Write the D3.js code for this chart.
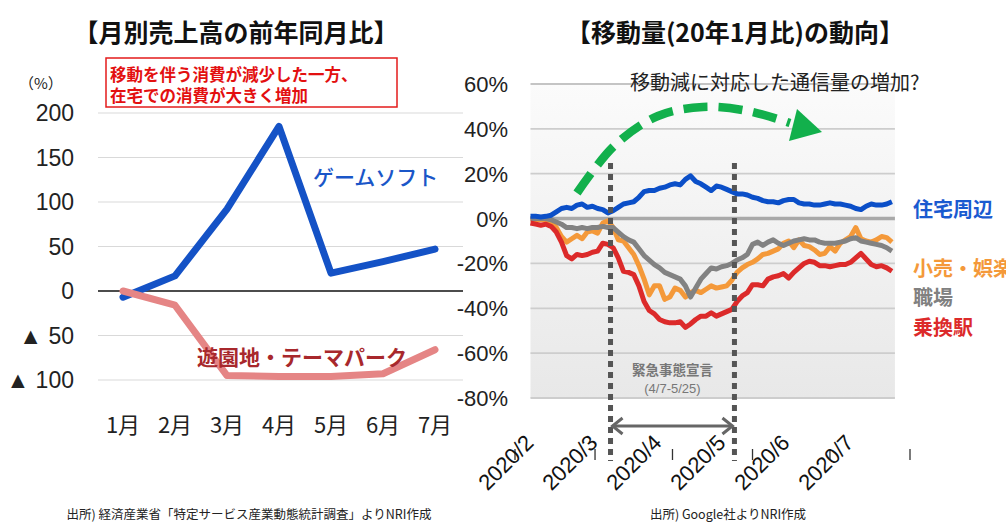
<!DOCTYPE html>
<html><head><meta charset="utf-8">
<script src="https://cdn.jsdelivr.net/npm/d3@7"></script>
<style>
body{margin:0;background:#fff}
svg{display:block}
text{font-family:"Noto Sans CJK JP","Noto Sans",sans-serif}
.num{font-family:"Liberation Sans",Arial,sans-serif}
</style>
</head><body><svg id="c" width="1006" height="522"></svg>
<script>
// ---------- left chart data ----------
const months = ["1月","2月","3月","4月","5月","6月","7月"];
const gameSoft = [-7, 17, 92, 185, 20, 33, 47];
const themePark = [0, -16, -95, -96, -96, -93, -66];
const leftTicks = [-100, -50, 0, 50, 100, 150, 200];
const leftTickLabels = ["▲ 100", "▲ 50", "0", "50", "100", "150", "200"];

// ---------- right chart data (every 2 days from 2020-03-07) ----------
const mobilityStart = "2020-03-07";
const residential = [1,1,0.7,1,1.5,3,4.5,5,4.5,6,6.5,5,5.5,4.5,4,2.5,3.5,5,
  6.5,7,7.5,9.5,12,12.5,12.5,13.5,14,15,15.5,15,17.5,19,16.5,15.5,14,12.5,14.5,14,13,12,11,11,10.5,9.5,9,8,7.5,7.5,7,8,8.5,8.5,7,
  6.5,6.5,6,6,6.5,7,6.5,6.5,6,5.5,4.5,4,5.5,6.5,6,6,6.5,7.5];
const retail = [-0.5,-0.5,-0.5,-0.5,-1.5,-4,-8,-10.5,-9,-7.5,-9,-6,-5.5,-6.5,-2,-1,-4,-9.5,
  -10,-13,-16,-21,-27,-34,-30,-30,-36,-35,-31,-32,-35,-33,-32,-33,-31.5,-30,-31,-30.5,-30,-27.5,-24,-22,-20.5,-19.5,-18,-16,-15.5,-14.5,-13.5,-11,-10,-13,-9.5,
  -12,-12.5,-14,-16,-15.5,-12.5,-14.5,-11,-9.5,-8,-4,-9,-10,-10.5,-9.5,-8,-8.5,-10.5];
const workplaces = [0,0,0,0,-0.5,-1.5,-2.5,-4,-4,-4.5,-4,-4.5,-4,-4,-3.5,-4,-4,-6,
  -8,-9.5,-10.5,-13.5,-16.5,-18.5,-20.5,-22,-24,-25,-26,-27,-30,-35,-31,-27,-24.5,-22,-22.5,-21.5,-21,-20,-18.5,-17.5,-16,-11.5,-10.5,-12,-10.5,-9.5,-11,-12,-11,-10,-9.5,
  -9,-9.5,-9.5,-10.5,-11,-11,-11,-10.5,-10,-9,-8.5,-10,-10.5,-11,-11.5,-12,-13,-14.5];
const transit = [-2,-2.5,-3,-2.5,-3.5,-6,-10.5,-16.5,-18,-16,-16.5,-16,-15,-14.5,-11,-11.5,-13,-17.5,
  -23.5,-24,-25,-30,-37,-41,-42.5,-45,-46,-46.5,-46.5,-46,-48.5,-47,-45,-43.5,-43.5,-42,-43.5,-42.5,-41.5,-40.5,-37,-34.5,-33,-29.5,-29.5,-30,-27,-26,-25.5,-24.5,-26.5,-24,-22,
  -20,-19,-19.5,-21,-21,-21.5,-21,-20.5,-20.5,-19.5,-17.5,-15.5,-18,-20.5,-21.5,-21,-22,-23.5];
const rightTicks = [-80, -60, -40, -20, 0, 20, 40, 60];
const dateLabels = ["2020/2","2020/3","2020/4","2020/5","2020/6","2020/7"];
const monthTicks = ["2020-03-01","2020-04-01","2020-05-01","2020-06-01","2020-07-01","2020-08-01"];
const emergency = ["2020-04-07","2020-05-25"];
const seriesNames = ["住宅周辺","小売・娯楽","職場","乗換駅"];

const parse = d3.timeParse("%Y-%m-%d");
const svg = d3.select("#c");

// ================= LEFT =================
const xL = d3.scalePoint().domain(months).range([123, 435]);
const yL = d3.scaleLinear().domain([-100, 200]).range([380, 113]);

svg.append("text").attr("x", 236).attr("y", 42).attr("text-anchor","middle")
  .attr("font-size", 25).attr("font-weight", 700).attr("fill","#111").text("【月別売上高の前年同月比】");

const gL = svg.append("g");
gL.selectAll(".gl").data(leftTicks.filter(d => d !== 0)).join("line")
  .attr("x1", 98).attr("x2", 463).attr("y1", d => yL(d)).attr("y2", d => yL(d))
  .attr("stroke", "#d9d9d9").attr("stroke-width", 1.2);
gL.append("line").attr("x1", 98).attr("x2", 463).attr("y1", yL(0)).attr("y2", yL(0))
  .attr("stroke", "#111").attr("stroke-width", 1.5);

gL.selectAll(".yl").data(leftTicks).join("text").attr("class","num")
  .attr("x", 74).attr("y", d => yL(d) + 8).attr("text-anchor","end")
  .attr("font-size", 23).attr("fill","#222")
  .text((d,i) => leftTickLabels[i]);
svg.append("text").attr("x", 19).attr("y", 89).attr("font-size", 15).attr("fill","#222").text("（%）");

gL.selectAll(".xl").data(months).join("text")
  .attr("x", d => xL(d)).attr("y", 433).attr("text-anchor","middle")
  .attr("font-size", 22).attr("fill","#222").text(d => d);

const lineL = d3.line().x((d,i) => xL(months[i])).y(d => yL(d));
gL.append("path").datum(gameSoft).attr("d", lineL).attr("fill","none")
  .attr("stroke","#1452c6").attr("stroke-width", 7).attr("stroke-linejoin","round").attr("stroke-linecap","round");
gL.append("path").datum(themePark).attr("d", lineL).attr("fill","none")
  .attr("stroke","#e58585").attr("stroke-width", 7).attr("stroke-linejoin","round").attr("stroke-linecap","round");

svg.append("text").attr("x", 313).attr("y", 185).attr("font-size", 21).attr("font-weight", 500)
  .attr("fill","#1a56c8").text("ゲームソフト");
svg.append("text").attr("x", 197).attr("y", 365).attr("font-size", 21).attr("font-weight", 700)
  .attr("fill","#a8282c").text("遊園地・テーマパーク");

// annotation box
svg.append("rect").attr("x", 106).attr("y", 58).attr("width", 291).attr("height", 49)
  .attr("fill","#fff").attr("stroke","#e31b1b").attr("stroke-width", 1.5);
const ann = svg.append("text").attr("font-size", 16.5).attr("font-weight", 700).attr("fill","#e31010");
ann.append("tspan").attr("x", 110).attr("y", 81).text("移動を伴う消費が減少した一方、");
ann.append("tspan").attr("x", 110).attr("y", 102).text("在宅での消費が大きく増加");

svg.append("text").attr("x", 249).attr("y", 519).attr("text-anchor","middle").attr("font-size", 12.5)
  .attr("fill","#222").text("出所) 経済産業省「特定サービス産業動態統計調査」よりNRI作成");

// ================= RIGHT =================
const start = parse(mobilityStart);
const dates = residential.map((d,i) => d3.timeDay.offset(start, 2*i));
const xR = d3.scaleTime().domain([parse("2020-03-01"), parse("2020-08-01")]).range([515, 910]);
const yR = d3.scaleLinear().domain([-80, 60]).range([398, 84]);
const px0 = xR(dates[0]), px1 = xR(dates[dates.length-1]) + 3;

svg.append("text").attr("x", 735).attr("y", 42).attr("text-anchor","middle")
  .attr("font-size", 25).attr("font-weight", 700).attr("fill","#111").text("【移動量(20年1月比)の動向】");

const defs = svg.append("defs");
const grad = defs.append("linearGradient").attr("id","bg").attr("x1",0).attr("x2",0).attr("y1",0).attr("y2",1);
grad.append("stop").attr("offset","0%").attr("stop-color","#fbfbfb");
grad.append("stop").attr("offset","100%").attr("stop-color","#e8e8e8");
svg.append("rect").attr("x", px0).attr("y", yR(60)).attr("width", px1 - px0).attr("height", yR(-80) - yR(60))
  .attr("fill","url(#bg)");

const gR = svg.append("g");
gR.selectAll(".gr").data(rightTicks.filter(d => d !== 0)).join("line")
  .attr("x1", px0).attr("x2", px1).attr("y1", d => yR(d)).attr("y2", d => yR(d))
  .attr("stroke", d => d === 60 ? "#c4c4c4" : "#cdcdcd").attr("stroke-width", 1.8);
gR.append("line").attr("x1", px0).attr("x2", px1).attr("y1", yR(0)).attr("y2", yR(0))
  .attr("stroke","#a9a9a9").attr("stroke-width", 3.5);

gR.selectAll(".yr").data(rightTicks).join("text").attr("class","num")
  .attr("x", 508).attr("y", d => yR(d) + 8).attr("text-anchor","end")
  .attr("font-size", 22).attr("fill","#222").text(d => d + "%");

// month tick marks
gR.selectAll(".mt").data(monthTicks).join("line")
  .attr("x1", d => xR(parse(d))).attr("x2", d => xR(parse(d)))
  .attr("y1", 449).attr("y2", 460).attr("stroke","#333").attr("stroke-width", 1.3);

// date labels
const xLab = d3.scalePoint().domain(dateLabels).range([535, 855]);
gR.selectAll(".xd").data(dateLabels).join("text").attr("class","num")
  .attr("transform", d => `translate(${xLab(d)},444) rotate(-45)`)
  .attr("text-anchor","end").attr("font-size", 22).attr("fill","#111").text(d => d);

// green dashed arrow (annotation)
const arrowPts = [[577,193],[614,146],[658,116],[703,107],[748,111],[790,123]];
svg.append("path").attr("d", d3.line().curve(d3.curveCatmullRom)(arrowPts))
  .attr("fill","none").attr("stroke","#12b04c").attr("stroke-width", 8.5).attr("stroke-dasharray","24,11");
svg.append("path").attr("d","M797,109 L822,132 L789,141 Z").attr("fill","#12b04c");

// series
const lineR = d3.line().x((d,i) => xR(dates[i])).y(d => yR(d));
const series = [
  {v: retail, c: "#f4993a"},
  {v: workplaces, c: "#828282"},
  {v: transit, c: "#dc2a2a"},
  {v: residential, c: "#0b4fc8"}
];
gR.selectAll(".s").data(series).join("path")
  .attr("d", d => lineR(d.v)).attr("fill","none").attr("stroke", d => d.c)
  .attr("stroke-width", 5).attr("stroke-linejoin","round");

// emergency period
const ex = emergency.map(d => xR(parse(d)));
gR.selectAll(".em").data(ex).join("line")
  .attr("x1", d => d).attr("x2", d => d).attr("y1", 163).attr("y2", 461)
  .attr("stroke","#555").attr("stroke-width", 5).attr("stroke-dasharray","6,5");
gR.append("line").attr("x1", ex[0] + 2).attr("x2", ex[1] - 2).attr("y1", 426).attr("y2", 426)
  .attr("stroke","#666").attr("stroke-width", 3);
gR.append("path").attr("d", `M${ex[0]+12},418 L${ex[0]+2},426 L${ex[0]+12},434`)
  .attr("fill","none").attr("stroke","#666").attr("stroke-width", 3);
gR.append("path").attr("d", `M${ex[1]-12},418 L${ex[1]-2},426 L${ex[1]-12},434`)
  .attr("fill","none").attr("stroke","#666").attr("stroke-width", 3);
gR.append("text").attr("x", (ex[0]+ex[1])/2).attr("y", 375).attr("text-anchor","middle")
  .attr("font-size", 13.5).attr("font-weight", 700).attr("fill","#777").text("緊急事態宣言");
gR.append("text").attr("class","num").attr("x", (ex[0]+ex[1])/2).attr("y", 393).attr("text-anchor","middle")
  .attr("font-size", 13).attr("fill","#777").text("(4/7-5/25)");

svg.append("text").attr("x", 630).attr("y", 90).attr("font-size", 20).attr("fill","#222")
  .text("移動減に対応した通信量の増加?");

// legend labels
const legColors = ["#1a5ad0","#f4993a","#808080","#dc2a2a"];
const legY = [217, 276, 305, 335];
svg.selectAll(".lg").data(seriesNames).join("text")
  .attr("x", 913).attr("y", (d,i) => legY[i]).attr("font-size", 20).attr("font-weight", 700)
  .attr("fill", (d,i) => legColors[i]).text(d => d);

svg.append("text").attr("x", 728).attr("y", 519).attr("text-anchor","middle").attr("font-size", 12.5)
  .attr("fill","#222").text("出所) Google社よりNRI作成");
</script>
</body></html>
